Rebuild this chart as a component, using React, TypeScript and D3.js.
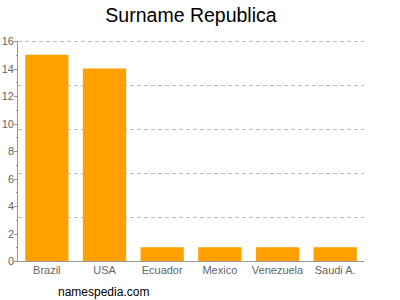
import React from "react";
import * as d3 from "d3";

const categories = ["Brazil", "USA", "Ecuador", "Mexico", "Venezuela", "Saudi A."];
const values = [15, 14, 1, 1, 1, 1];
const yTicks = [0, 2, 4, 6, 8, 10, 12, 14, 16];
const yMinorTicks = [1, 3, 5, 7, 9, 11, 13, 15];
const gridValues = [3.2, 6.4, 9.6, 12.8, 16];
const title = "Surname Republica";
const credit = "namespedia.com";

export default function App() {
  const W = 400, H = 300;
  const left = 18, right = 364, top = 41, bottom = 261;
  const x = d3.scaleBand<string>().domain(categories).range([left, right]).paddingInner(0.25).paddingOuter(0.125);
  const y = d3.scaleLinear().domain([0, 16]).range([bottom, top]);
  const font = "'Liberation Sans', Arial, Helvetica, sans-serif";
  const axisColor = "#999";
  return (
    <svg width={W} height={H} style={{ position: "absolute", left: 0, top: 0 }} fontFamily={font}>
      <rect width={W} height={H} fill="#fff" />
      <text x={(left + right) / 2} y={22} textAnchor="middle" fontSize={19.5} fill="#000">{title}</text>
      {gridValues.map((v) => (
        <line key={v} x1={left} x2={right} y1={Math.round(y(v)) + 0.5} y2={Math.round(y(v)) + 0.5} stroke="#bbb" strokeDasharray="4,3" />
      ))}
      {categories.map((c, i) => (
        <rect key={c} x={x(c)} y={y(values[i])} width={x.bandwidth()} height={bottom - y(values[i])} fill="#ffa000" />
      ))}
      <line x1={left - 0.5} x2={left - 0.5} y1={top} y2={bottom} stroke={axisColor} />
      <line x1={left - 1} x2={right} y1={bottom + 0.5} y2={bottom + 0.5} stroke={axisColor} />
      {yTicks.map((t) => (
        <g key={t}>
          <line x1={left - 4} x2={left} y1={Math.round(y(t)) + 0.5} y2={Math.round(y(t)) + 0.5} stroke={axisColor} />
          <text x={left - 4} y={y(t) + 4} textAnchor="end" fontSize={11} fill="#666">{t}</text>
        </g>
      ))}
      {yMinorTicks.map((t) => (
        <line key={t} x1={left - 2} x2={left} y1={Math.round(y(t)) + 0.5} y2={Math.round(y(t)) + 0.5} stroke={axisColor} />
      ))}
      {categories.map((c) => (
        <text key={c} x={(x(c) as number) + x.bandwidth() / 2} y={274} textAnchor="middle" fontSize={11} fill="#666">{c}</text>
      ))}
      <text x={58} y={296} fontSize={12} fill="#000">{credit}</text>
    </svg>
  );
}
